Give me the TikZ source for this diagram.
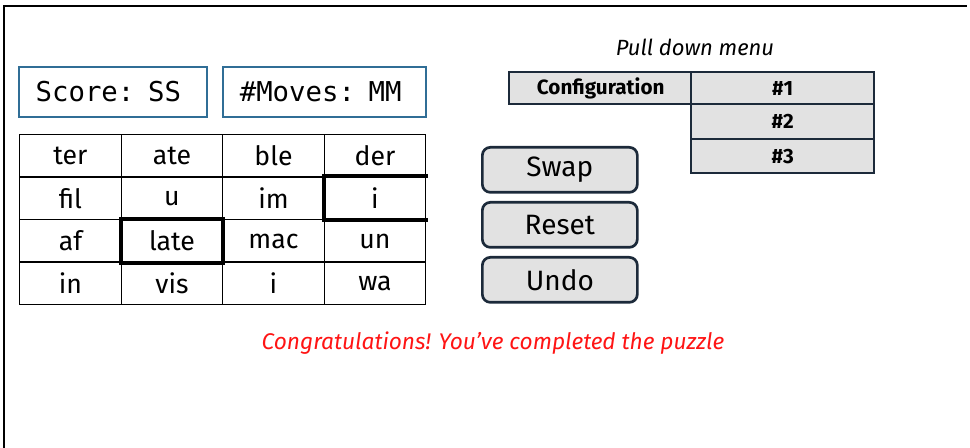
\documentclass[tikz,border=0pt]{standalone}
\usepackage{fontspec}
\setmainfont{Fira Sans}
\setmonofont{DejaVu Sans Mono}
\definecolor{boxblue}{RGB}{48,110,150}
\definecolor{navy}{RGB}{28,42,58}
\definecolor{btngray}{RGB}{226,226,226}
\definecolor{msgred}{RGB}{255,20,20}
\begin{document}
\begin{tikzpicture}[x=0.75pt,y=-0.75pt,
	cell/.style={draw, line width=1.1pt, minimum width=76.125pt, minimum height=31.875pt, inner sep=0pt, anchor=north west, font=\fontsize{20}{23}\selectfont},
	pick/.style={line width=3pt, line cap=rect},
	infobox/.style={draw=boxblue, line width=1.5pt, minimum height=37.5pt, inner xsep=12pt, anchor=north west, align=left, font=\ttfamily\fontsize{20.5}{23}\selectfont},
	button/.style={draw=navy, fill=btngray, line width=2pt, rounded corners=6pt, minimum width=116.25pt, minimum height=33.75pt, anchor=north west, font=\fontsize{21}{24}\selectfont},
	menubox/.style={draw=navy, fill=btngray, line width=1.8pt, minimum width=137.25pt, inner sep=0pt, anchor=north west, font=\bfseries\fontsize{15.5}{18}\selectfont}]
		
		\useasboundingbox (0,0) rectangle (970,448);
		
		%Frame
		\draw[-, line width=1.2pt] (4,448) -- (4,6) -- (967,6);
		
		%Score and moves
		\node[infobox, minimum width=141pt, text width=116pt] (score) at (18,66) {Score: SS};
		\node[infobox, minimum width=152.25pt, text width=127pt] (moves) at (222,66) {\#Moves: MM};
		
		%Grid
		\node[cell] (c11) at (19,134) {ter};
		\node[cell] (c12) at (120.5,134) {ate};
		\node[cell] (c13) at (222,134) {ble};
		\node[cell] (c14) at (323.5,134) {der};
		\node[cell] (c21) at (19,176.5) {fil};
		\node[cell] (c22) at (120.5,176.5) {u};
		\node[cell] (c23) at (222,176.5) {im};
		\node[cell] (c24) at (323.5,176.5) {i};
		\node[cell] (c31) at (19,219) {af};
		\node[cell] (c32) at (120.5,219) {late};
		\node[cell] (c33) at (222,219) {mac};
		\node[cell] (c34) at (323.5,219) {un};
		\node[cell] (c41) at (19,261.5) {in};
		\node[cell] (c42) at (120.5,261.5) {vis};
		\node[cell] (c43) at (222,261.5) {i};
		\node[cell] (c44) at (323.5,261.5) {wa};
		
		%Selected tiles
		\draw[pick] (c32.north west) rectangle (c32.south east);
		\draw[pick] (c24.north east) -- (c24.north west) -- (c24.south west) -- (c24.south east);
		
		%Buttons
		\node[button] (swap) at (481,146) {Swap};
		\node[button] (reset) at (481,201) {Reset};
		\node[button] (undo) at (481,256) {Undo};
		
		%Pull down menu
		\node[font=\itshape\fontsize{16.5}{19}\selectfont] (pdm) at (695,47) {Pull down menu};
		\node[menubox, minimum height=24pt] (config) at (508,71) {Configuration};
		\node[menubox, minimum height=24pt] (m1) at (690,71) {\#1};
		\node[menubox, minimum height=26.25pt] (m2) at (690,103) {\#2};
		\node[menubox, minimum height=25.5pt] (m3) at (690,138) {\#3};
		
		%Message
		\node[text=msgred, font=\itshape\fontsize{17}{20}\selectfont] (msg) at (493,343) {Congratulations! You’ve completed the puzzle};
		
		\end{tikzpicture}
\end{document}
